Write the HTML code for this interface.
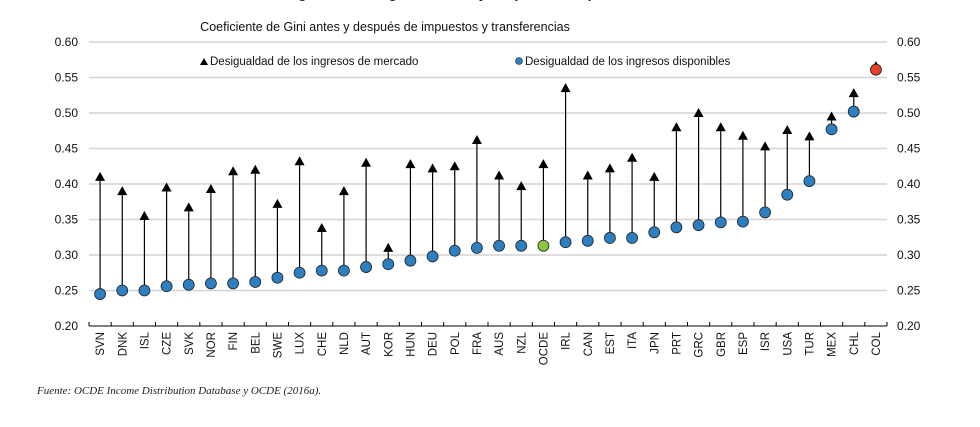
<!DOCTYPE html>
<html><head><meta charset="utf-8"><style>
body{margin:0;background:#fff;width:980px;height:422px;overflow:hidden;font-family:"Liberation Sans",sans-serif}
</style></head><body>
<svg id="c" width="980" height="422" xmlns="http://www.w3.org/2000/svg">
<text x="455" y="-2" text-anchor="middle" font-size="14" font-weight="bold" fill="#222">Desigualdad de ingresos antes y después de impuestos</text>
<text x="385" y="31" text-anchor="middle" font-size="12.5" fill="#111">Coeficiente de Gini antes y después de impuestos y transferencias</text>
<g id="grid"></g><g id="marks"></g>
<g>
<path d="M200,65 l4,-7 l4,7z" fill="#000"/>
<text x="210" y="65" font-size="11.5" fill="#111">Desigualdad de los ingresos de mercado</text>
<circle cx="519" cy="61" r="3.5" fill="#2e7fc0" stroke="#222" stroke-width="0.6"/>
<text x="525" y="65" font-size="11.5" fill="#111">Desigualdad de los ingresos disponibles</text>
</g>
<text x="37" y="394" font-family="Liberation Serif,serif" font-style="italic" font-size="11" fill="#222">Fuente: OCDE Income Distribution Database y OCDE (2016a).</text>
</svg>
<script>
const categories=["SVN","DNK","ISL","CZE","SVK","NOR","FIN","BEL","SWE","LUX","CHE","NLD","AUT","KOR","HUN","DEU","POL","FRA","AUS","NZL","OCDE","IRL","CAN","EST","ITA","JPN","PRT","GRC","GBR","ESP","ISR","USA","TUR","MEX","CHL","COL"];
const marketGini=[0.41,0.39,0.355,0.395,0.367,0.393,0.418,0.42,0.372,0.432,0.338,0.39,0.43,0.31,0.428,0.422,0.425,0.462,0.412,0.397,0.428,0.535,0.412,0.422,0.437,0.41,0.48,0.5,0.48,0.468,0.453,0.476,0.467,0.495,0.528,0.566];
const disposableGini=[0.245,0.25,0.25,0.256,0.258,0.26,0.26,0.262,0.268,0.275,0.278,0.278,0.283,0.287,0.292,0.298,0.306,0.31,0.313,0.313,0.313,0.318,0.32,0.324,0.324,0.332,0.339,0.342,0.346,0.347,0.36,0.385,0.404,0.477,0.502,0.561];
const yTicks=["0.20","0.25","0.30","0.35","0.40","0.45","0.50","0.55","0.60"];
const NS="http://www.w3.org/2000/svg";
const x0=89,x1=887,yMin=0.2,yMax=0.6,yTop=42,yBot=326;
const step=(x1-x0)/categories.length;
const X=i=>x0+step*(i+0.5);
const Y=v=>yBot-(v-yMin)/(yMax-yMin)*(yBot-yTop);
function mk(t,a,p){const e=document.createElementNS(NS,t);for(const k in a)e.setAttribute(k,a[k]);p.appendChild(e);return e;}
const grid=document.getElementById('grid'),marks=document.getElementById('marks');
yTicks.forEach(t=>{const v=parseFloat(t),y=Y(v);
 if(v>yMin){const l=mk('line',{x1:x0,x2:x1,y1:y,y2:y,stroke:'#d4d4d4','stroke-width':1.5},grid);
 
 }
 const a=mk('text',{x:78,y:y+4,'text-anchor':'end','font-size':12,fill:'#111'},grid);a.textContent=t;
 
 
 const b=mk('text',{x:897,y:y+4,'font-size':12,fill:'#111'},grid);b.textContent=t;
 
 
});
const ax=mk('line',{x1:x0,x2:x1,y1:yBot,y2:yBot,stroke:'#000','stroke-width':1},grid);


for(let i=0;i<=categories.length;i++){const t=mk('line',{x1:x0+step*i,x2:x0+step*i,y1:yBot-4,y2:yBot,stroke:'#000'},grid);
 
 }
categories.forEach((c,i)=>{
 const x=X(i),ym=Y(marketGini[i]),yd=Y(disposableGini[i]);
 const lab=mk('text',{transform:`translate(${x+4},332) rotate(-90)`,'text-anchor':'end','font-size':11.5,fill:'#111'},marks);lab.textContent=c;
 
 
 if(ym<yd-8){const s=mk('line',{x1:x,x2:x,y1:ym+4,y2:yd,stroke:'#000','stroke-width':1.2},marks);
 
 }
 const tri=mk('path',{d:`M${x-5},${ym+4} L${x},${ym-5} L${x+5},${ym+4}Z`,fill:'#000'},marks);
 
 
 const col=c==='OCDE'?'#8cc63f':c==='COL'?'#e2412a':'#2e7fc0';
 const d=mk('circle',{cx:x,cy:yd,r:5.5,fill:col,stroke:'#222','stroke-width':0.8},marks);
 
 
});
</script>
</body></html>
